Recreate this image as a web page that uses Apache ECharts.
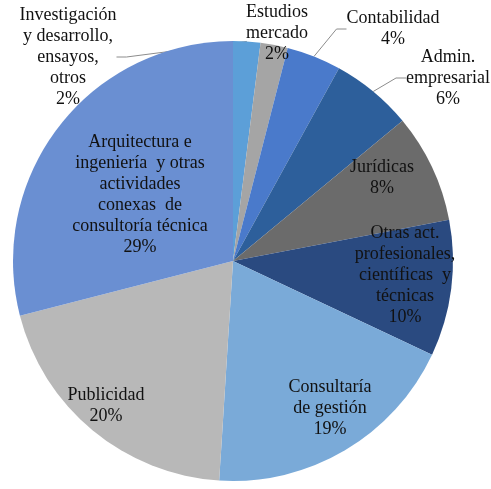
<!DOCTYPE html>
<html>
<head>
<meta charset="utf-8">
<script src="https://cdn.jsdelivr.net/npm/echarts@6/dist/echarts.min.js"></script>
<style>
  html, body { margin: 0; padding: 0; background: #fff; }
  #chart { width: 491px; height: 489px; }
</style>
</head>
<body>
<div id="chart"></div>
<script>
// categorias y porcentajes (en sentido horario desde las 12)
const categorias = [
  'Investigación\ny desarrollo,\nensayos,\notros',
  'Estudios\nmercado',
  'Contabilidad',
  'Admin.\nempresarial',
  'Jurídicas',
  'Otras act.\nprofesionales,\ncientíficas  y\ntécnicas',
  'Consultaría\nde gestión',
  'Publicidad',
  'Arquitectura e\ningeniería  y otras\nactividades\nconexas  de\nconsultoría técnica'
];
const porcentajes = [2, 2, 4, 6, 8, 10, 19, 20, 29];

const colores = ['#5c9fd8', '#a5a5a5', '#4a7acb', '#2d5f9b', '#6b6b6b', '#2a4a80', '#7aaad8', '#b8b8b8', '#6a8fd2'];
// donde va el texto de cada etiqueta (centro del bloque)
const posEtiquetas = [[68, 57], [277, 33], [393, 29], [448, 78], [382, 178], [405, 275], [330, 408], [106, 406], [140, 195]];
const fuera = [true, true, true, true, false, false, false, false, false];
const conLinea = [true, false, true, true, false, false, false, false, false];

const chart = echarts.init(document.getElementById('chart'));

const datos = categorias.map((c, i) => ({
  name: c,
  value: porcentajes[i],
  itemStyle: { color: colores[i] },
  label: { position: fuera[i] ? 'outside' : 'inside' },
  labelLine: { show: conLinea[i], lineStyle: { color: '#8c8c8c', width: 1 } }
}));

chart.setOption({
  animation: false,
  textStyle: { fontFamily: '"Liberation Serif", "DejaVu Serif", serif' },
  series: [{
    type: 'pie',
    center: [233, 261],
    radius: 220,
    startAngle: 90,
    clockwise: true,
    data: datos,
    label: {
      show: true,
      color: '#111',
      fontFamily: '"Liberation Serif", "DejaVu Serif", serif',
      fontSize: 18,
      lineHeight: 21,
      align: 'center',
      overflow: 'none',
      edgeDistance: 0,
      bleedMargin: 0,
      formatter: p => p.name + '\n' + p.value + '%'
    },
    labelLine: { length: 10, length2: 10 },
    labelLayout: p => ({
      x: posEtiquetas[p.dataIndex][0],
      y: posEtiquetas[p.dataIndex][1],
      align: 'center',
      verticalAlign: 'middle',
      hideOverlap: false
    }),
    itemStyle: { borderWidth: 0 },
    emphasis: { disabled: true }
  }]
});
</script>
</body>
</html>
